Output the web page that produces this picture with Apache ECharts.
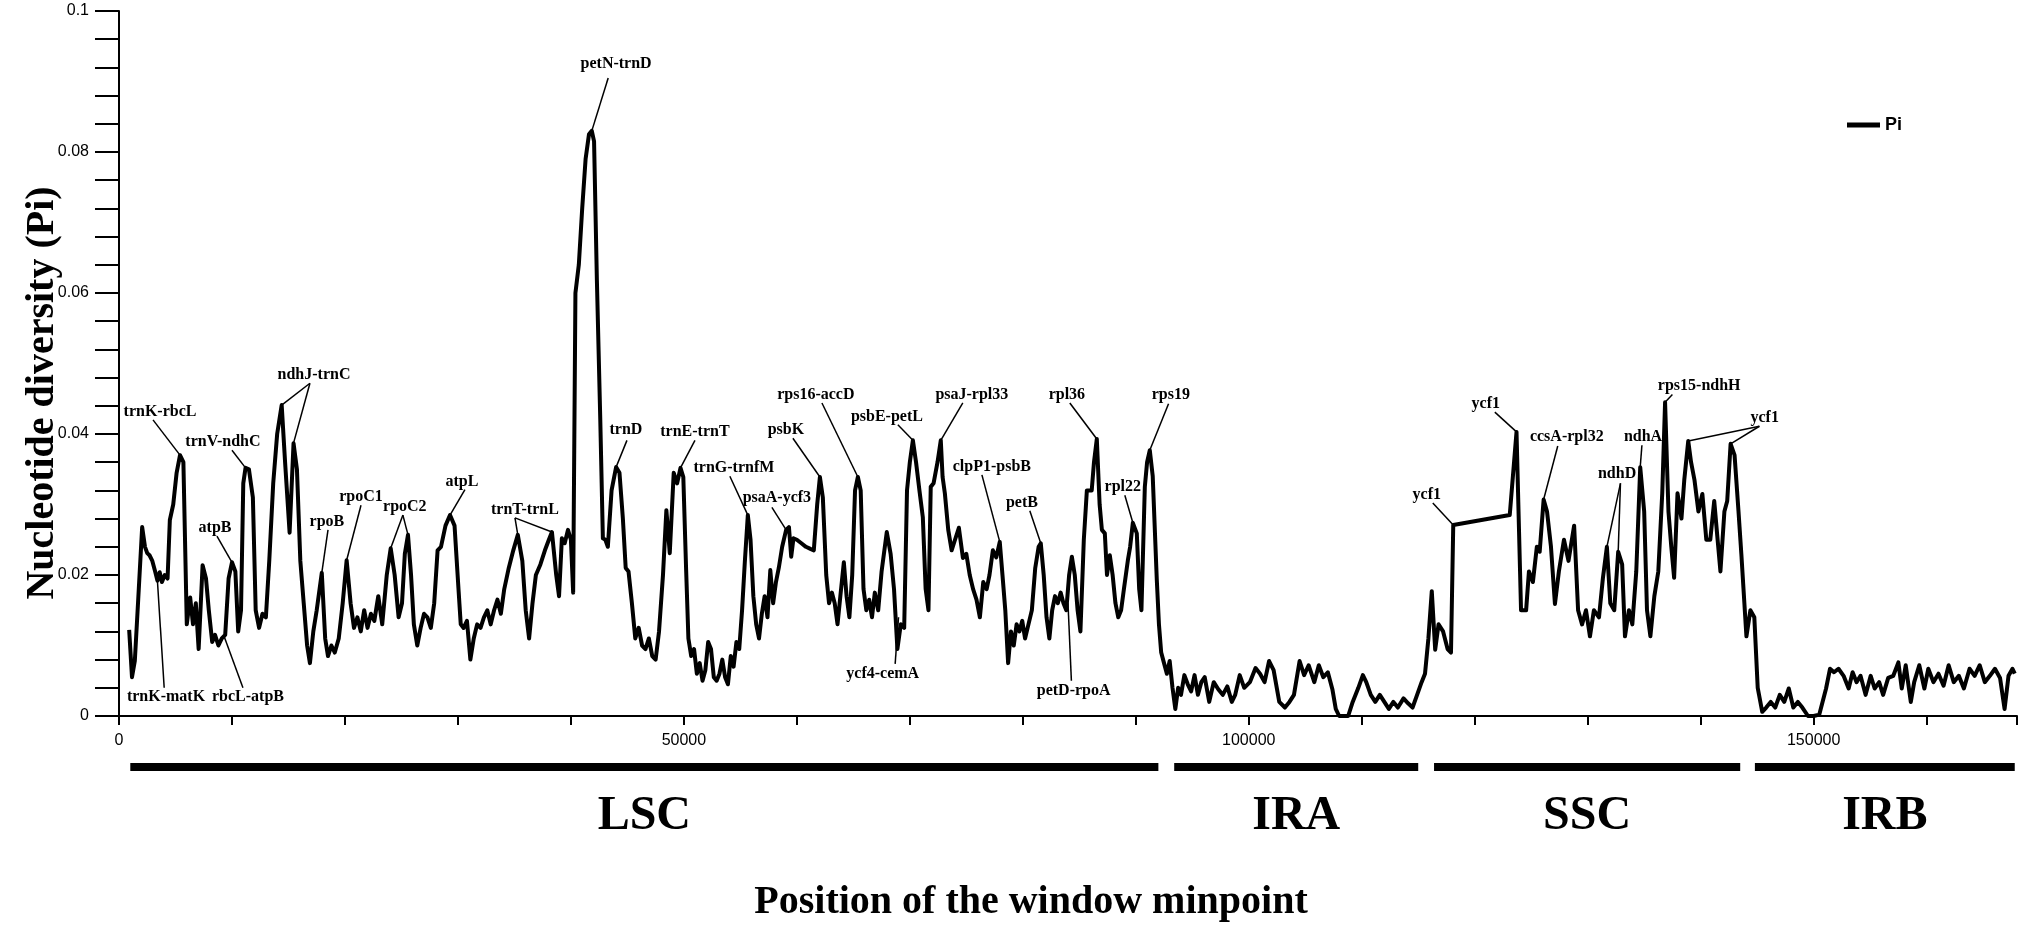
<!DOCTYPE html>
<html>
<head>
<meta charset="utf-8">
<script src="https://cdn.jsdelivr.net/npm/echarts@6/dist/echarts.min.js"></script>
<style>
  html, body { margin: 0; padding: 0; background: #fff; }
  #main { width: 2032px; height: 928px; }
</style>
</head>
<body>
<div id="main"></div>
<script>
// window midpoints (bp) and nucleotide diversity
var windowPos = [
  900, 1150, 1400, 1700, 2050, 2300, 2500, 2700, 2950, 3200, 3400, 3600, 3800, 4050, 4300, 4500, 4800, 5100, 5400, 5700,
  6000, 6300, 6550, 6800, 7050, 7400, 7700, 7950, 8250, 8500, 8800, 9100, 9400, 9700, 10000, 10300, 10550, 10800, 11000, 11200,
  11500, 11850, 12100, 12400, 12700, 13000, 13300, 13650, 14000, 14400, 14700, 15100, 15450, 15750, 16050, 16350, 16650, 16900, 17200, 17500,
  17950, 18250, 18500, 18800, 19100, 19450, 19800, 20150, 20500, 20800, 21100, 21400, 21700, 22000, 22300, 22600, 22950, 23300, 23700, 24050,
  24400, 24750, 25050, 25300, 25580, 25850, 26100, 26400, 26700, 27000, 27300, 27600, 27900, 28200, 28500, 28900, 29300, 29700, 30050, 30250,
  30500, 30800, 31100, 31400, 31700, 32000, 32300, 32600, 32900, 33200, 33500, 33800, 34100, 34500, 34900, 35300, 35700, 36000, 36300, 36600,
  36900, 37300, 37700, 38050, 38320, 38700, 38950, 39200, 39450, 39740, 40000, 40200, 40400, 40700, 41000, 41300, 41600, 41850, 42050, 42300,
  42600, 42830, 43050, 43270, 43600, 44000, 44300, 44600, 44850, 45100, 45400, 45700, 46000, 46300, 46600, 46900, 47200, 47500, 47800, 48150,
  48450, 48750, 49100, 49400, 49700, 49950, 50200, 50400, 50650, 50900, 51150, 51400, 51650, 51900, 52150, 52400, 52650, 52900, 53150, 53400,
  53650, 53900, 54150, 54400, 54650, 54900, 55150, 55400, 55660, 55900, 56150, 56400, 56650, 56900, 57150, 57400, 57650, 57900, 58150, 58400,
  58700, 59050, 59300, 59500, 59700, 60000, 60400, 60800, 61200, 61500, 61800, 62040, 62300, 62600, 62850, 63100, 63350, 63600, 63850, 64160,
  64400, 64650, 64900, 65150, 65400, 65650, 65900, 66150, 66400, 66650, 66900, 67200, 67500, 67960, 68300, 68600, 68900, 69200, 69500, 69750,
  70000, 70270, 70550, 70850, 71150, 71400, 71650, 71850, 72100, 72450, 72740, 72900, 73100, 73400, 73700, 74000, 74340, 74700, 75000, 75300,
  75600, 75900, 76200, 76500, 76800, 77050, 77350, 77650, 77960, 78200, 78450, 78700, 78950, 79200, 79450, 79700, 79950, 80200, 80500, 80800,
  81100, 81400, 81590, 81850, 82100, 82350, 82600, 82850, 83100, 83350, 83600, 83850, 84100, 84340, 84600, 84850, 85100, 85400, 85670, 86100,
  86300, 86550, 86800, 87000, 87260, 87450, 87700, 87950, 88200, 88450, 88700, 88950, 89300, 89500, 89740, 90090, 90300, 90500, 90800, 91000,
  91240, 91500, 91860, 92050, 92250, 92500, 92750, 93000, 93250, 93500, 93750, 94000, 94300, 94600, 94900, 95200, 95500, 95800, 96100, 96500,
  96900, 97300, 97700, 98100, 98500, 98800, 99200, 99600, 100100, 100600, 101000, 101400, 101800, 102200, 102700, 103200, 103600, 104000, 104500, 104900,
  105300, 105800, 106200, 106600, 107000, 107400, 107700, 108000, 108400, 108800, 109200, 109700, 110100, 110400, 110800, 111200, 111600, 112000, 112400, 112800,
  113200, 113700, 114100, 114500, 114900, 115300, 115600, 115900, 116200, 116500, 116800, 117200, 117600, 117900, 118100, 123100, 123700, 124100, 124550, 124800,
  125150, 125500, 125750, 126100, 126400, 126750, 127100, 127450, 127900, 128300, 128800, 129150, 129500, 129850, 130200, 130550, 131000, 131350, 131700, 132000,
  132350, 132700, 133050, 133300, 133650, 133950, 134300, 134650, 135000, 135250, 135550, 135900, 136250, 136600, 136850, 137150, 137400, 137650, 137950, 138300,
  138550, 138900, 139150, 139450, 139800, 140150, 140500, 140850, 141200, 141500, 141750, 142100, 142350, 142650, 143000, 143350, 143600, 144050, 144400, 144750,
  145050, 145450, 145800, 146200, 146600, 147000, 147400, 147800, 148200, 148600, 149000, 149500, 150000, 150500, 151100, 151450, 151800, 152200, 152650, 153100,
  153450, 153800, 154150, 154600, 155050, 155400, 155800, 156150, 156600, 157050, 157500, 157800, 158150, 158600, 158900, 159350, 159800, 160150, 160600, 161050,
  161500, 161950, 162400, 162850, 163300, 163800, 164250, 164700, 165150, 165600, 166050, 166500, 166900, 167250, 167600, 167800
];

var piValues = [
  0.0122, 0.0055, 0.0078, 0.0165, 0.0268, 0.0240, 0.0231, 0.0228, 0.0220, 0.0205, 0.0192, 0.0204, 0.0190, 0.0200, 0.0195, 0.0278, 0.0300, 0.0345, 0.0370, 0.0360,
  0.0130, 0.0168, 0.0130, 0.0160, 0.0095, 0.0214, 0.0195, 0.0150, 0.0105, 0.0115, 0.0100, 0.0110, 0.0115, 0.0195, 0.0218, 0.0205, 0.0120, 0.0150, 0.0330, 0.0352,
  0.0350, 0.0310, 0.0150, 0.0125, 0.0145, 0.0140, 0.0220, 0.0330, 0.0400, 0.0441, 0.0360, 0.0260, 0.0387, 0.0350, 0.0220, 0.0160, 0.0100, 0.0075, 0.0120, 0.0150,
  0.0203, 0.0110, 0.0085, 0.0100, 0.0090, 0.0110, 0.0160, 0.0221, 0.0160, 0.0125, 0.0140, 0.0120, 0.0150, 0.0125, 0.0145, 0.0135, 0.0170, 0.0130, 0.0200, 0.0238,
  0.0200, 0.0140, 0.0160, 0.0230, 0.0257, 0.0200, 0.0130, 0.0100, 0.0125, 0.0145, 0.0140, 0.0125, 0.0160, 0.0235, 0.0240, 0.0270, 0.0285, 0.0270, 0.0180, 0.0130,
  0.0125, 0.0135, 0.0080, 0.0110, 0.0130, 0.0125, 0.0140, 0.0150, 0.0130, 0.0150, 0.0165, 0.0145, 0.0180, 0.0210, 0.0235, 0.0257, 0.0220, 0.0150, 0.0110, 0.0160,
  0.0200, 0.0215, 0.0235, 0.0250, 0.0261, 0.0200, 0.0170, 0.0252, 0.0245, 0.0264, 0.0250, 0.0175, 0.0600, 0.0640, 0.0720, 0.0790, 0.0825, 0.0830, 0.0815, 0.0618,
  0.0420, 0.0252, 0.0250, 0.0240, 0.0320, 0.0353, 0.0345, 0.0280, 0.0210, 0.0205, 0.0160, 0.0110, 0.0125, 0.0100, 0.0095, 0.0110, 0.0085, 0.0080, 0.0120, 0.0200,
  0.0292, 0.0231, 0.0345, 0.0330, 0.0352, 0.0339, 0.0207, 0.0110, 0.0085, 0.0095, 0.0060, 0.0075, 0.0050, 0.0065, 0.0105, 0.0095, 0.0055, 0.0050, 0.0060, 0.0080,
  0.0055, 0.0045, 0.0085, 0.0070, 0.0105, 0.0095, 0.0150, 0.0220, 0.0285, 0.0250, 0.0170, 0.0130, 0.0110, 0.0145, 0.0170, 0.0140, 0.0207, 0.0160, 0.0190, 0.0210,
  0.0240, 0.0264, 0.0268, 0.0226, 0.0252, 0.0250, 0.0245, 0.0240, 0.0237, 0.0235, 0.0300, 0.0339, 0.0310, 0.0200, 0.0160, 0.0175, 0.0160, 0.0130, 0.0170, 0.0218,
  0.0170, 0.0140, 0.0200, 0.0320, 0.0339, 0.0320, 0.0180, 0.0150, 0.0165, 0.0140, 0.0175, 0.0150, 0.0205, 0.0261, 0.0230, 0.0180, 0.0095, 0.0130, 0.0125, 0.0320,
  0.0360, 0.0391, 0.0360, 0.0320, 0.0282, 0.0180, 0.0150, 0.0325, 0.0330, 0.0360, 0.0391, 0.0339, 0.0316, 0.0264, 0.0235, 0.0250, 0.0267, 0.0224, 0.0230, 0.0200,
  0.0180, 0.0165, 0.0140, 0.0190, 0.0180, 0.0200, 0.0235, 0.0225, 0.0247, 0.0200, 0.0150, 0.0075, 0.0120, 0.0100, 0.0130, 0.0120, 0.0135, 0.0110, 0.0130, 0.0150,
  0.0210, 0.0240, 0.0245, 0.0200, 0.0140, 0.0110, 0.0150, 0.0170, 0.0160, 0.0175, 0.0160, 0.0150, 0.0200, 0.0226, 0.0200, 0.0150, 0.0120, 0.0250, 0.0320, 0.0320,
  0.0360, 0.0393, 0.0300, 0.0264, 0.0259, 0.0200, 0.0228, 0.0200, 0.0160, 0.0140, 0.0150, 0.0180, 0.0221, 0.0240, 0.0274, 0.0259, 0.0180, 0.0150, 0.0325, 0.0360,
  0.0377, 0.0340, 0.0193, 0.0130, 0.0090, 0.0075, 0.0060, 0.0078, 0.0040, 0.0010, 0.0040, 0.0030, 0.0058, 0.0045, 0.0035, 0.0058, 0.0030, 0.0048, 0.0055, 0.0020,
  0.0048, 0.0038, 0.0030, 0.0042, 0.0020, 0.0030, 0.0058, 0.0040, 0.0048, 0.0068, 0.0060, 0.0048, 0.0078, 0.0065, 0.0020, 0.0012, 0.0020, 0.0030, 0.0078, 0.0058,
  0.0072, 0.0048, 0.0072, 0.0055, 0.0062, 0.0038, 0.0010, 0.0000, 0.0000, 0.0000, 0.0020, 0.0040, 0.0058, 0.0048, 0.0030, 0.0020, 0.0030, 0.0020, 0.0010, 0.0020,
  0.0012, 0.0025, 0.0018, 0.0012, 0.0030, 0.0048, 0.0060, 0.0110, 0.0177, 0.0094, 0.0130, 0.0120, 0.0095, 0.0090, 0.0271, 0.0285, 0.0403, 0.0150, 0.0150, 0.0205,
  0.0190, 0.0240, 0.0233, 0.0307, 0.0290, 0.0240, 0.0159, 0.0205, 0.0250, 0.0220, 0.0270, 0.0150, 0.0130, 0.0150, 0.0113, 0.0150, 0.0140, 0.0196, 0.0240, 0.0160,
  0.0150, 0.0233, 0.0215, 0.0113, 0.0150, 0.0130, 0.0205, 0.0353, 0.0290, 0.0150, 0.0113, 0.0170, 0.0205, 0.0316, 0.0445, 0.0290, 0.0240, 0.0196, 0.0316, 0.0280,
  0.0335, 0.0390, 0.0360, 0.0335, 0.0290, 0.0315, 0.0250, 0.0250, 0.0305, 0.0250, 0.0205, 0.0290, 0.0305, 0.0386, 0.0370, 0.0290, 0.0230, 0.0113, 0.0150, 0.0140,
  0.0040, 0.0006, 0.0012, 0.0020, 0.0012, 0.0030, 0.0020, 0.0039, 0.0012, 0.0020, 0.0012, 0.0000, 0.0000, 0.0002, 0.0039, 0.0067, 0.0062, 0.0067, 0.0057, 0.0039,
  0.0062, 0.0048, 0.0057, 0.0030, 0.0057, 0.0039, 0.0048, 0.0030, 0.0054, 0.0057, 0.0076, 0.0039, 0.0072, 0.0020, 0.0048, 0.0072, 0.0039, 0.0067, 0.0048, 0.0060,
  0.0043, 0.0072, 0.0048, 0.0057, 0.0039, 0.0067, 0.0057, 0.0072, 0.0048, 0.0057, 0.0067, 0.0054, 0.0010, 0.0057, 0.0067, 0.0060
];

// gene labels: name, text centre (bp, Pi), leader start (bp, Pi), leader ends
var geneLabels = [
  ['trnK-rbcL', 3630, 0.0431, 3010, 0.0420, [[5400, 0.0370]]],
  ['trnV-ndhC', 9200, 0.0389, 10000, 0.0377, [[11200, 0.0352]]],
  ['ndhJ-trnC', 17260, 0.0484, 16900, 0.0472, [[14400, 0.0441], [15450, 0.0387]]],
  ['atpB', 8500, 0.0267, 8670, 0.0255, [[10000, 0.0218]]],
  ['rpoB', 18400, 0.0275, 18500, 0.0264, [[17950, 0.0203]]],
  ['rpoC1', 21420, 0.0311, 21420, 0.0299, [[20150, 0.0221]]],
  ['rpoC2', 25300, 0.0296, 25130, 0.0285, [[24050, 0.0238], [25580, 0.0257]]],
  ['atpL', 30350, 0.0332, 30620, 0.0321, [[29300, 0.0285]]],
  ['trnT-trnL', 35930, 0.0292, 35050, 0.0281, [[35300, 0.0257], [38320, 0.0261]]],
  ['trnK-matK', 4160, 0.0027, 4000, 0.0040, [[3400, 0.0192]]],
  ['rbcL-atpB', 11420, 0.0027, 10970, 0.0040, [[9300, 0.0113]]],
  ['petN-trnD', 44000, 0.0925, 43300, 0.0905, [[41850, 0.0830]]],
  ['trnD', 44870, 0.0406, 44960, 0.0391, [[44000, 0.0353]]],
  ['trnE-trnT', 50980, 0.0403, 50980, 0.0391, [[49700, 0.0352]]],
  ['trnG-trnfM', 54430, 0.0352, 54070, 0.0340, [[55660, 0.0285]]],
  ['psaA-ycf3', 58230, 0.0309, 57790, 0.0296, [[59050, 0.0264]]],
  ['psbK', 59030, 0.0406, 59650, 0.0394, [[62040, 0.0339]]],
  ['rps16-accD', 61680, 0.0455, 62220, 0.0444, [[65400, 0.0339]]],
  ['psbE-petL', 67970, 0.0424, 68940, 0.0413, [[70270, 0.0391]]],
  ['psaJ-rpl33', 75490, 0.0455, 74690, 0.0444, [[72740, 0.0391]]],
  ['clpP1-psbB', 77260, 0.0353, 76380, 0.0342, [[77960, 0.0247]]],
  ['petB', 79920, 0.0302, 80620, 0.0291, [[81590, 0.0245]]],
  ['rpl36', 83900, 0.0455, 84160, 0.0444, [[86550, 0.0393]]],
  ['rpl22', 88850, 0.0325, 89030, 0.0313, [[89740, 0.0274]]],
  ['rps19', 93100, 0.0455, 92900, 0.0443, [[91240, 0.0377]]],
  ['ycf4-cemA', 67600, 0.0060, 68700, 0.0074, [[69000, 0.0140]]],
  ['petD-rpoA', 84500, 0.0035, 84300, 0.0050, [[84000, 0.0160]]],
  ['ycf1', 115760, 0.0313, 116290, 0.0302, [[118100, 0.0271]]],
  ['ycf1', 120980, 0.0443, 121780, 0.0431, [[123700, 0.0403]]],
  ['ccsA-rpl32', 128150, 0.0396, 127350, 0.0383, [[126100, 0.0307]]],
  ['ndhD', 132600, 0.0343, 132900, 0.0330, [[131700, 0.0240], [132700, 0.0233]]],
  ['ndhA', 134900, 0.0396, 134800, 0.0384, [[134650, 0.0353]]],
  ['rps15-ndhH', 139870, 0.0468, 137500, 0.0456, [[136850, 0.0445]]],
  ['ycf1', 145670, 0.0423, 145200, 0.0411, [[138900, 0.0390], [142650, 0.0386]]]
];

// genome regions (bp)
var regionNames = ['LSC', 'IRA', 'SSC', 'IRB'];
var regionStart = [1000, 93400, 116400, 144800];
var regionEnd = [92000, 115000, 143500, 167800];

var serif = '"Liberation Serif", "Times New Roman", serif';
var sans = '"Liberation Sans", Arial, sans-serif';

var chart = echarts.init(document.getElementById('main'), null, { renderer: 'canvas' });

var lineData = windowPos.map(function (x, i) { return [x, piValues[i]]; });

chart.setOption({
  animation: false,
  backgroundColor: '#fff',
  grid: { left: 119, right: 15, top: 11, bottom: 212 },
  legend: {
    data: ['Pi'],
    left: 1842,
    top: 111,
    icon: 'rect',
    itemWidth: 33,
    itemHeight: 5,
    textStyle: { fontFamily: sans, fontWeight: 'bold', fontSize: 18, color: '#000' }
  },
  xAxis: {
    type: 'value',
    min: 0,
    max: 168000,
    interval: 10000,
    splitLine: { show: false },
    axisLine: { lineStyle: { color: '#000', width: 2 } },
    axisTick: { length: 9, lineStyle: { color: '#000', width: 2 } },
    axisLabel: {
      margin: 17,
      color: '#000',
      fontFamily: sans,
      fontSize: 16,
      formatter: function (v) { return v % 50000 === 0 ? String(v) : ''; }
    }
  },
  yAxis: {
    type: 'value',
    min: 0,
    max: 0.1,
    interval: 0.004,
    splitLine: { show: false },
    axisLine: { show: true, lineStyle: { color: '#000', width: 2 } },
    axisTick: { show: true, length: 24, lineStyle: { color: '#000', width: 2 } },
    axisLabel: {
      margin: 30,
      color: '#000',
      fontFamily: sans,
      fontSize: 16,
      formatter: function (v) {
        var k = v / 0.02;
        return Math.abs(k - Math.round(k)) < 1e-6 ? String(+v.toFixed(2)) : '';
      }
    }
  },
  series: [{
    name: 'Pi',
    type: 'line',
    data: lineData,
    showSymbol: false,
    symbol: 'none',
    color: '#000',
    lineStyle: { color: '#000', width: 4, join: 'round' }
  }]
});

function px(x, y) {
  return chart.convertToPixel({ gridIndex: 0 }, [x, y]);
}

var graphics = [];

// gene labels and their leader lines
geneLabels.forEach(function (g) {
  var t = px(g[1], g[2]);
  var s = px(g[3], g[4]);
  g[5].forEach(function (e) {
    var p = px(e[0], e[1]);
    graphics.push({
      type: 'line', z: 10,
      shape: { x1: s[0], y1: s[1], x2: p[0], y2: p[1] },
      style: { stroke: '#000', lineWidth: 1.5 }
    });
  });
  graphics.push({
    type: 'text', z: 11,
    style: {
      text: g[0], x: t[0], y: t[1], align: 'center', verticalAlign: 'middle',
      font: 'bold 16px ' + serif, fill: '#000'
    }
  });
});

// region bars under the axis
regionNames.forEach(function (name, i) {
  var a = px(regionStart[i], 0)[0];
  var b = px(regionEnd[i], 0)[0];
  graphics.push({
    type: 'rect',
    shape: { x: a, y: 763, width: b - a, height: 8 },
    style: { fill: '#000' }
  });
  graphics.push({
    type: 'text',
    style: {
      text: name, x: (a + b) / 2, y: 817, align: 'center', verticalAlign: 'middle',
      font: 'bold 48px ' + serif, fill: '#000'
    }
  });
});

// axis titles
graphics.push({
  type: 'text',
  style: {
    text: 'Position of the window minpoint', x: 1031, y: 903,
    align: 'center', verticalAlign: 'middle', font: 'bold 40px ' + serif, fill: '#000'
  }
});
graphics.push({
  type: 'text',
  x: 43, y: 393, rotation: Math.PI / 2,
  style: {
    text: 'Nucleotide diversity (Pi)', x: 0, y: 0,
    align: 'center', verticalAlign: 'middle', font: 'bold 40px ' + serif, fill: '#000'
  }
});

chart.setOption({ graphic: graphics });
</script>
</body>
</html>
